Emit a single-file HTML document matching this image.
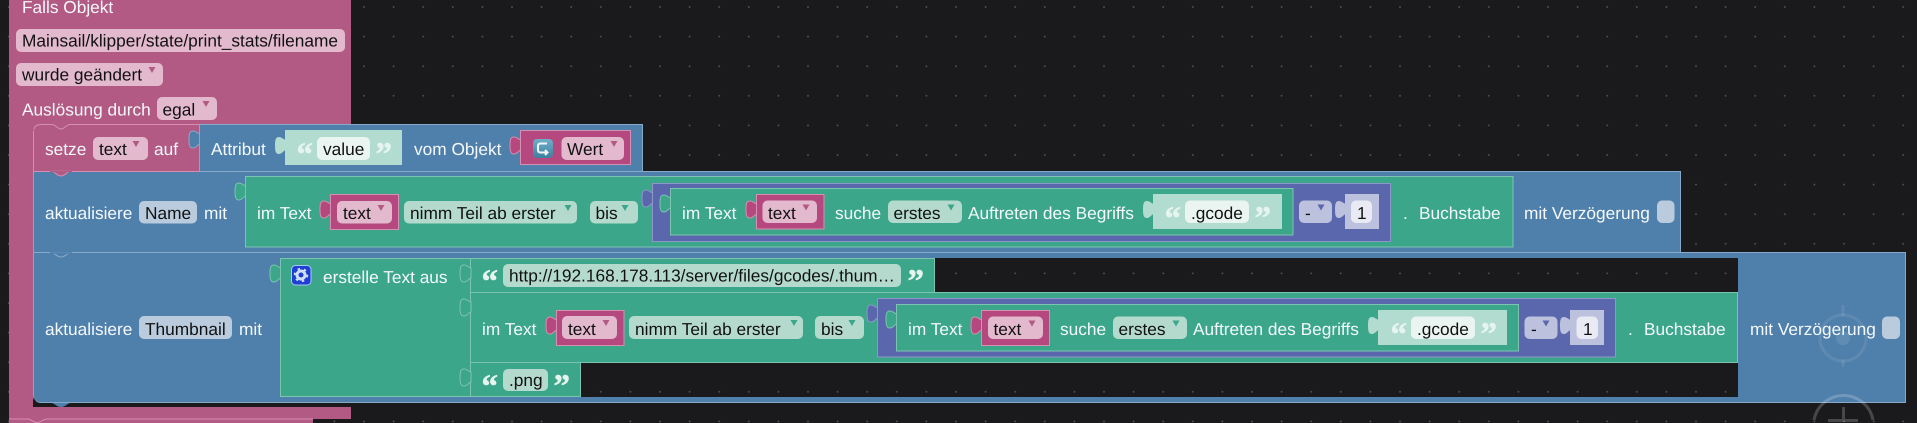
<!DOCTYPE html>
<html><head><meta charset="utf-8"><style>
html,body{margin:0;padding:0;background:#1a1a1c;width:1917px;height:423px;overflow:hidden}
svg{display:block}
text{font-family:"Liberation Sans",sans-serif;font-size:17.3px;text-rendering:geometricPrecision}
.w{fill:#f4f8fa}.d{fill:#111}
.q{font-family:"Liberation Serif",serif;font-weight:bold;font-size:33px;fill:#e6f4ef;stroke:#e6f4ef;stroke-width:.5}
.pk{fill:#b25a84;stroke:#d58fb0}.pv{fill:#b5497f;stroke:#d58fb0}
.bl{fill:#4f7fab;stroke:#86a9c9}.gr{fill:#3ba689;stroke:#7cc4af}.pu{fill:#5a67ad;stroke:#8d97c9}
.lg{fill:#b2dccf;stroke:none}.lp{fill:#bcc1de;stroke:none}
.fp{fill:#e3b9cd}.fg{fill:#b3dacd}.fb{fill:#b9cbdd}.fu{fill:#bcc1de}.fw{fill:#eaf5f1}.f1{fill:#e9eaf4}
</style></head><body>
<svg width="1917" height="423" viewBox="0 0 1917 423" xmlns="http://www.w3.org/2000/svg">
<defs>
<pattern id="dots" patternUnits="userSpaceOnUse" width="29.6" height="29.6" patternTransform="translate(-6 -7.8)"><circle cx="14.8" cy="14.8" r="0.9" fill="#5a5a5a"/></pattern>
<path id="tab" d="M1 10C-1 10-3 7-6 7C-9 7-10 9-10 15.500C-10 22-9 24-6 24C-3 24-1 20 1 20Z"/>
<path id="ar" d="M-3.5 4h7l-3.5 6z"/>
<linearGradient id="ic" x1="0" y1="0" x2="0" y2="1"><stop offset="0" stop-color="#6fb0c8"/><stop offset="1" stop-color="#3f7f9f"/></linearGradient>
</defs>
<rect width="1917" height="423" fill="#1a1a1c"/>
<rect width="1917" height="423" fill="url(#dots)"/>

<!-- main pink hat block -->
<rect x="9" y="0" width="342" height="129" fill="#b25a84"/>
<rect x="9" y="0" width="24" height="420" fill="#b25a84"/>
<rect x="9" y="407" width="342" height="12" fill="#b25a84"/>
<rect x="9" y="419" width="304" height="4" fill="#b25a84"/>
<rect x="199" y="124" width="152" height="5" fill="#1a1a1c"/>
<path d="M9 419H28C31 419 33 422.500 37 422.500C41 422.500 43 419 47 419H313" fill="none" stroke="#d58fb0"/>
<text class="w" x="22" y="13">Falls Objekt</text>
<rect class="fp" x="16" y="29" width="329" height="23" rx="5"/>
<text class="d" x="22" y="46.5">Mainsail/klipper/state/print_stats/filename</text>
<rect class="fp" x="16" y="63" width="147" height="23" rx="5"/>
<text class="d" x="22" y="80.5">wurde geändert</text>
<use href="#ar" x="152" y="63" fill="#b25a84"/>
<text class="w" x="22" y="115.5">Auslösung durch</text>
<rect class="fp" x="157" y="97" width="60" height="23" rx="5"/>
<text class="d" x="162.5" y="115.5">egal</text>
<use href="#ar" x="206" y="97" fill="#b25a84"/>

<!-- third block: thumbnail -->
<path class="bl" d="M33.5 252.5H1905.5V402.5H41Q33.5 402.5 33.5 395Z"/>
<rect x="35" y="403" width="316" height="4" fill="#1a1a1c"/>
<path d="M34 397Q35 403 42 403.500V407H38Q34 404 34 397Z" fill="#1a1a1c"/>
<path d="M51 403C55 403 56 407 61 407C66 407 67 403 71 403Z" fill="#4f7fab"/>
<rect x="935" y="258" width="803" height="34" fill="#1a1a1c"/>
<rect x="935" y="258" width="803" height="34" fill="url(#dots)"/>
<rect x="581" y="362.5" width="1157" height="34.5" fill="#1a1a1c"/>
<rect x="581" y="362.5" width="1157" height="34.5" fill="url(#dots)"/>

<!-- second block: name -->
<path class="bl" d="M33.500 171.500H1680.500V252.500H33.500Z"/>
<path d="M51 252.500C55 252.500 56 257 61 257C66 257 67 252.500 71 252.500Z" fill="#4f7fab" stroke="#86a9c9"/>
<path d="M50 253H72" stroke="#4f7fab" stroke-width="1.500"/>

<!-- setze block -->
<path class="pk" d="M33.500 171.500V132Q33.500 124.500 41 124.500H52C56 124.500 57 129 61 129C65 129 66 124.500 70 124.500H199.500V171.500Z"/>
<path d="M51 171C55 171 56 176 61 176C66 176 67 171 71 171Z" fill="#b25a84" stroke="#d58fb0"/>
<path d="M50 171.500H72" stroke="#b25a84" stroke-width="1.500"/>
<text class="w" x="45" y="155">setze</text>
<rect class="fp" x="93" y="137" width="55" height="23" rx="5"/>
<text class="d" x="99" y="155">text</text>
<use href="#ar" x="136" y="137" fill="#b25a84"/>
<text class="w" x="154" y="155">auf</text>
<use href="#tab" x="199" y="124" fill="#4f7fab" stroke="#86a9c9"/>
<rect class="bl" x="199.5" y="124.5" width="443" height="47"/>
<text class="w" x="211" y="155">Attribut</text>
<use href="#tab" x="285" y="130" fill="#b2dccf" stroke="none"/>
<rect class="lg" x="285" y="130" width="117" height="35"/>
<text class="q" x="296.5" y="165">“</text>
<rect class="fw" x="317" y="137" width="53" height="23" rx="5"/>
<text class="d" x="323" y="155">value</text>
<text class="q" x="375.5" y="165">”</text>
<text class="w" x="414" y="155">vom Objekt</text>
<use href="#tab" x="520" y="130" fill="#b5497f" stroke="#d58fb0"/>
<rect class="pv" x="520.5" y="130.5" width="110" height="34"/>
<rect x="533" y="139" width="20" height="19" rx="4" fill="url(#ic)"/>
<path d="M547 143.500H540.500Q538 143.500 538 146V150Q538 152.500 540.500 152.500H547.500M545 150L547.500 152.500L545 155" fill="none" stroke="#eef6fa" stroke-width="2"/>
<rect class="fp" x="561.500" y="137" width="62.500" height="23" rx="5"/>
<text class="d" x="567" y="155">Wert</text>
<use href="#ar" x="614" y="137" fill="#b25a84"/>

<!-- row 2 content -->
<text class="w" x="45" y="219">aktualisiere</text>
<rect class="fb" x="139" y="201" width="58" height="22.500" rx="5"/>
<text class="d" x="145" y="219">Name</text>
<text class="w" x="204" y="219">mit</text>
<use href="#tab" x="245" y="176" fill="#3ba689" stroke="#7cc4af"/>
<rect class="gr" x="245.500" y="176.500" width="1267.500" height="70.500"/>
<text class="w" x="257" y="219">im Text</text>
<use href="#tab" x="330" y="194" fill="#b5497f" stroke="#d58fb0"/>
<rect class="pv" x="330.500" y="194.500" width="68" height="35"/>
<rect class="fp" x="337" y="201" width="55" height="22.500" rx="5"/>
<text class="d" x="343" y="219">text</text>
<use href="#ar" x="381" y="201" fill="#b25a84"/>
<rect class="fg" x="404" y="201" width="173" height="22.500" rx="5"/>
<text class="d" x="410" y="219">nimm Teil ab erster</text>
<use href="#ar" x="568" y="201" fill="#3ba689"/>
<rect class="fg" x="590" y="201" width="48" height="22.500" rx="5"/>
<text class="d" x="595.500" y="219">bis</text>
<use href="#ar" x="625" y="201" fill="#3ba689"/>
<use href="#tab" x="652" y="183" fill="#5a67ad" stroke="#8d97c9"/>
<rect class="pu" x="652.500" y="183.500" width="738" height="58"/>
<use href="#tab" x="670" y="188" fill="#3ba689" stroke="#7cc4af"/>
<rect class="gr" x="670.500" y="188.500" width="622.500" height="46.500"/>
<text class="w" x="682" y="219">im Text</text>
<use href="#tab" x="756" y="194" fill="#b5497f" stroke="#d58fb0"/>
<rect class="pv" x="756.500" y="194.500" width="67.500" height="34.500"/>
<rect class="fp" x="762.500" y="200.500" width="54.500" height="22.500" rx="5"/>
<text class="d" x="768" y="219">text</text>
<use href="#ar" x="806" y="200.500" fill="#b25a84"/>
<text class="w" x="835" y="219">suche</text>
<rect class="fg" x="888" y="200.500" width="74" height="22.500" rx="5"/>
<text class="d" x="893.500" y="219">erstes</text>
<use href="#ar" x="951" y="200.500" fill="#3ba689"/>
<text class="w" x="968" y="219">Auftreten des Begriffs</text>
<use href="#tab" x="1153" y="194" fill="#b2dccf" stroke="none"/>
<rect class="lg" x="1153" y="194" width="129" height="35"/>
<text class="q" x="1164.500" y="229">“</text>
<rect class="fw" x="1185" y="200.500" width="64" height="22.500" rx="5"/>
<text class="d" x="1191" y="219">.gcode</text>
<text class="q" x="1254.500" y="229">”</text>
<rect class="fu" x="1299" y="200.500" width="33" height="22.500" rx="5"/>
<text class="d" x="1305" y="219">-</text>
<use href="#ar" x="1321" y="200.500" fill="#5a67ad"/>
<use href="#tab" x="1345" y="194" fill="#bcc1de" stroke="none"/>
<rect class="lp" x="1345" y="194" width="34" height="35"/>
<rect class="f1" x="1351" y="200.500" width="21" height="22.500" rx="5"/>
<text class="d" x="1357" y="219">1</text>
<text class="w" x="1403" y="219">.</text>
<text class="w" x="1419" y="219">Buchstabe</text>
<text class="w" x="1524" y="219">mit Verzögerung</text>
<rect class="fb" x="1657" y="200.500" width="17.500" height="22.500" rx="5"/>

<!-- row 3 content -->
<text class="w" x="45" y="335">aktualisiere</text>
<rect class="fb" x="139" y="316" width="93" height="23" rx="5"/>
<text class="d" x="145" y="335">Thumbnail</text>
<text class="w" x="239" y="335">mit</text>
<use href="#tab" x="280" y="258" fill="#3ba689" stroke="#7cc4af"/>
<path class="gr" d="M280.500 258.500H934.500V292.500H1737.500V362.500H580.500V396.500H280.500Z"/>
<path d="M470.500 258.500V396.500M470.500 292.500H935M470.500 362.500H581" fill="none" stroke="#7cc4af"/>
<use href="#tab" x="470" y="258" fill="#3ba689" stroke="#7cc4af"/>
<use href="#tab" x="470" y="292" fill="#3ba689" stroke="#7cc4af"/>
<use href="#tab" x="470" y="362" fill="#3ba689" stroke="#7cc4af"/>
<rect x="291.500" y="265.500" width="19.500" height="19.500" rx="4" fill="#1e3fd2" stroke="#a9c6f5"/>
<circle cx="301" cy="275" r="4" fill="none" stroke="#cfe0f8" stroke-width="3"/>
<circle cx="301" cy="275" r="6.300" fill="none" stroke="#cfe0f8" stroke-width="1.800" stroke-dasharray="2.500 4"/>
<text class="w" x="323" y="283">erstelle Text aus</text>
<text class="q" x="481.500" y="292">“</text>
<rect class="fg" x="503" y="264" width="398" height="23" rx="5"/>
<text class="d" x="509" y="281.500">http://192.168.178.113/server/files/gcodes/.thum…</text>
<text class="q" x="907.500" y="292">”</text>
<text class="w" x="482" y="335">im Text</text>
<use href="#tab" x="556" y="310" fill="#b5497f" stroke="#d58fb0"/>
<rect class="pv" x="556.500" y="310.500" width="67.500" height="35"/>
<rect class="fp" x="562" y="316" width="55" height="23" rx="5"/>
<text class="d" x="568" y="335">text</text>
<use href="#ar" x="606" y="316" fill="#b25a84"/>
<rect class="fg" x="629" y="316" width="174" height="23" rx="5"/>
<text class="d" x="635" y="335">nimm Teil ab erster</text>
<use href="#ar" x="794" y="316" fill="#3ba689"/>
<rect class="fg" x="815" y="316" width="49" height="23" rx="5"/>
<text class="d" x="821" y="335">bis</text>
<use href="#ar" x="852" y="316" fill="#3ba689"/>
<use href="#tab" x="877" y="298" fill="#5a67ad" stroke="#8d97c9"/>
<rect class="pu" x="877.500" y="298.500" width="738" height="58.500"/>
<use href="#tab" x="896" y="304" fill="#3ba689" stroke="#7cc4af"/>
<rect class="gr" x="896.500" y="304.500" width="622" height="46.500"/>
<text class="w" x="908" y="335">im Text</text>
<use href="#tab" x="981" y="310" fill="#b5497f" stroke="#d58fb0"/>
<rect class="pv" x="981.500" y="310.500" width="68" height="35"/>
<rect class="fp" x="988" y="316.500" width="55" height="22.500" rx="5"/>
<text class="d" x="993.500" y="335">text</text>
<use href="#ar" x="1032" y="316.500" fill="#b25a84"/>
<text class="w" x="1060" y="335">suche</text>
<rect class="fg" x="1113" y="316.500" width="74" height="22.500" rx="5"/>
<text class="d" x="1118.500" y="335">erstes</text>
<use href="#ar" x="1176" y="316.500" fill="#3ba689"/>
<text class="w" x="1193" y="335">Auftreten des Begriffs</text>
<use href="#tab" x="1378" y="310" fill="#b2dccf" stroke="none"/>
<rect class="lg" x="1378" y="310" width="129" height="35"/>
<text class="q" x="1390.500" y="345">“</text>
<rect class="fw" x="1411" y="316.500" width="64" height="22.500" rx="5"/>
<text class="d" x="1417" y="335">.gcode</text>
<text class="q" x="1480.500" y="345">”</text>
<rect class="fu" x="1524.500" y="316.500" width="33" height="22.500" rx="5"/>
<text class="d" x="1531" y="335">-</text>
<use href="#ar" x="1546" y="316.500" fill="#5a67ad"/>
<use href="#tab" x="1570" y="310" fill="#bcc1de" stroke="none"/>
<rect class="lp" x="1570" y="310" width="34" height="35"/>
<rect class="f1" x="1576.500" y="316.500" width="21.500" height="22.500" rx="5"/>
<text class="d" x="1583" y="335">1</text>
<text class="w" x="1628" y="335">.</text>
<text class="w" x="1644" y="335">Buchstabe</text>
<text class="w" x="1750" y="335">mit Verzögerung</text>
<rect class="fb" x="1882" y="316.500" width="18" height="22.500" rx="5"/>
<text class="q" x="481.500" y="397">“</text>
<rect class="fg" x="503" y="369" width="45" height="22" rx="5"/>
<text class="d" x="509" y="386">.png</text>
<text class="q" x="553.500" y="397">”</text>

<!-- zoom controls overlay -->
<g fill="none" stroke="#fff" stroke-opacity=".09" stroke-width="3">
<circle cx="1843" cy="338" r="23"/>
<path d="M1843 305V316M1843 360V367"/>
<circle cx="1843" cy="338" r="7" fill="#fff" fill-opacity=".1" stroke="none"/>
</g>
<g fill="none" stroke="#fff" stroke-opacity=".2" stroke-width="3">
<path d="M1814 420A30 30 0 0 1 1873 420"/>
<path d="M1843.500 407V421M1828 420.500H1858"/>
</g>
</svg>
</body></html>
